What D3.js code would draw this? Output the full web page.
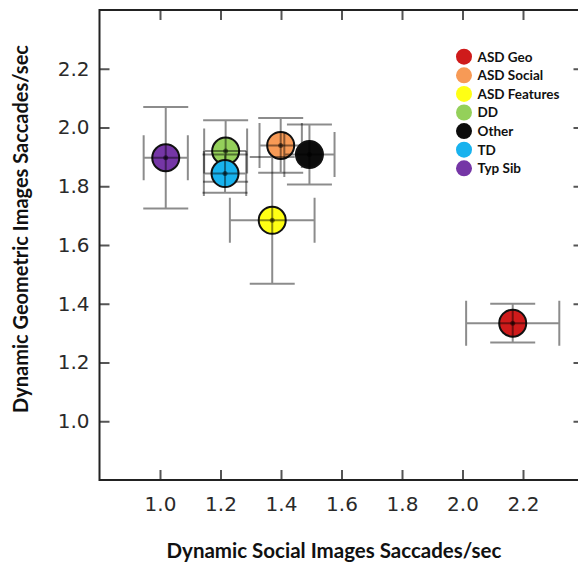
<!DOCTYPE html>
<html>
<head>
<meta charset="utf-8">
<script src="https://cdn.jsdelivr.net/npm/d3@7"></script>
<style>
  body { margin: 0; background: #fff; }
  svg { display: block; }
</style>
</head>
<body>
<svg id="svg1" width="578" height="565"></svg>
<script>
"use strict";

// group names and marker colours (legend order)
const groups = ["ASD Geo", "ASD Social", "ASD Features", "DD", "Other", "TD", "Typ Sib"];
const groupColors = ["#cf1b1b", "#f79a56", "#ffff14", "#94d05a", "#0c0c0c", "#18b2ee", "#7536a6"];

// means and error bar half widths
const socialMean = [2.166, 1.399, 1.371, 1.217, 1.494, 1.215, 1.019];
const socialErr  = [0.154, 0.070, 0.140, 0.071, 0.083, 0.070, 0.073];
const geoMean    = [1.334, 1.939, 1.684, 1.920, 1.908, 1.843, 1.897];
const geoErr     = [0.066, 0.093, 0.216, 0.105, 0.102, 0.065, 0.173];

// axis ticks
const xTicks = [1.0, 1.2, 1.4, 1.6, 1.8, 2.0, 2.2];
const yTicks = [1.0, 1.2, 1.4, 1.6, 1.8, 2.0, 2.2];

let svg = d3.select("#svg1");

let marginLeft = 99.5,
    marginTop = 10,
    plotW = 484,
    plotH = 470;

let x = d3.scaleLinear().domain([0.8, 2.4]).range([0, plotW]),
    y = d3.scaleLinear().domain([0.8, 2.4]).range([plotH, 0]);

let g = svg.append("g")
  .attr("transform", `translate(${marginLeft},${marginTop})`);

// axes, ticks pointing into the plot
g.append("g")
  .attr("class", "axis axis-y")
  .call(d3.axisLeft(y).tickValues(yTicks).tickFormat(d3.format(".1f"))
    .tickSizeInner(-10).tickSizeOuter(0).tickPadding(10));

g.append("g")
  .attr("class", "axis axis-x")
  .attr("transform", `translate(0,${plotH})`)
  .call(d3.axisBottom(x).tickValues(xTicks).tickFormat(d3.format(".1f"))
    .tickSizeInner(-10).tickSizeOuter(0).tickPadding(17));

g.append("g")
  .attr("class", "axis axis-top")
  .call(d3.axisTop(x).tickValues(xTicks).tickFormat("")
    .tickSizeInner(-10).tickSizeOuter(0));

g.append("g")
  .attr("class", "axis axis-right")
  .attr("transform", `translate(${plotW},0)`)
  .call(d3.axisRight(y).tickValues(yTicks).tickFormat("")
    .tickSizeInner(-10).tickSizeOuter(0));

svg.selectAll(".axis .domain").remove();
svg.selectAll(".axis .tick line")
  .attr("stroke", "#555")
  .attr("stroke-width", 2);
svg.selectAll(".axis .tick text")
  .attr("fill", "#2a2a2a")
  .style("font-family", "'DejaVu Sans', sans-serif")
  .style("font-size", "20px");

// plot frame
g.append("rect")
  .attr("width", plotW)
  .attr("height", plotH)
  .attr("fill", "none")
  .attr("stroke", "#222")
  .attr("stroke-width", 2);

// one point per group: circle, then its error bars drawn over it
let data = groups.map((name, i) => ({
  name: name,
  color: groupColors[i],
  sx: socialMean[i], sxe: socialErr[i],
  gy: geoMean[i], gye: geoErr[i]
}));

let cap = 22.5;

let pts = g.selectAll(".pt")
  .data(data)
  .enter()
  .append("g")
  .attr("class", "pt");

pts.append("circle")
  .attr("cx", d => x(d.sx))
  .attr("cy", d => y(d.gy))
  .attr("r", 13.5)
  .attr("fill", d => d.color)
  .attr("stroke", "#111")
  .attr("stroke-width", 2);

let bars = pts.append("g")
  .attr("stroke", "rgba(0,0,0,0.45)")
  .attr("stroke-width", 2)
  .attr("fill", "none");

// vertical error bar + caps
bars.append("path")
  .attr("d", d => {
    let cx = x(d.sx), y0 = y(d.gy + d.gye), y1 = y(d.gy - d.gye);
    return `M${cx},${y0}V${y1}M${cx - cap},${y0}H${cx + cap}M${cx - cap},${y1}H${cx + cap}`;
  });

// horizontal error bar + caps
bars.append("path")
  .attr("d", d => {
    let cy = y(d.gy), x0 = x(d.sx - d.sxe), x1 = x(d.sx + d.sxe);
    return `M${x0},${cy}H${x1}M${x0},${cy - cap}V${cy + cap}M${x1},${cy - cap}V${cy + cap}`;
  });

pts.append("circle")
  .attr("cx", d => x(d.sx))
  .attr("cy", d => y(d.gy))
  .attr("r", 2.5)
  .attr("fill", "rgba(0,0,0,0.5)");

// legend
const legend = svg.selectAll(".legend")
  .data(data)
  .enter()
  .append("g")
  .attr("class", "legend")
  .attr("transform", (d, i) => `translate(464,${56.7 + i * 18.6})`);

legend.append("circle")
  .attr("r", 8)
  .attr("fill", d => d.color);

legend.append("text")
  .attr("x", 13.5)
  .attr("dy", "0.36em")
  .style("font-family", "Lato, sans-serif")
  .style("font-weight", "bold")
  .style("font-size", "13.5px")
  .attr("fill", "#111")
  .text(d => d.name);

// axis titles
svg.append("text")
  .attr("x", 334)
  .attr("y", 558)
  .attr("text-anchor", "middle")
  .style("font-family", "Lato, sans-serif")
  .style("font-weight", "bold")
  .style("font-size", "20.5px")
  .attr("fill", "#111")
  .text("Dynamic Social Images Saccades/sec");

svg.append("text")
  .attr("transform", "translate(28,229) rotate(-90)")
  .attr("text-anchor", "middle")
  .style("font-family", "Lato, sans-serif")
  .style("font-weight", "bold")
  .style("font-size", "20px")
  .attr("fill", "#111")
  .text("Dynamic Geometric Images Saccades/sec");
</script>
</body>
</html>
